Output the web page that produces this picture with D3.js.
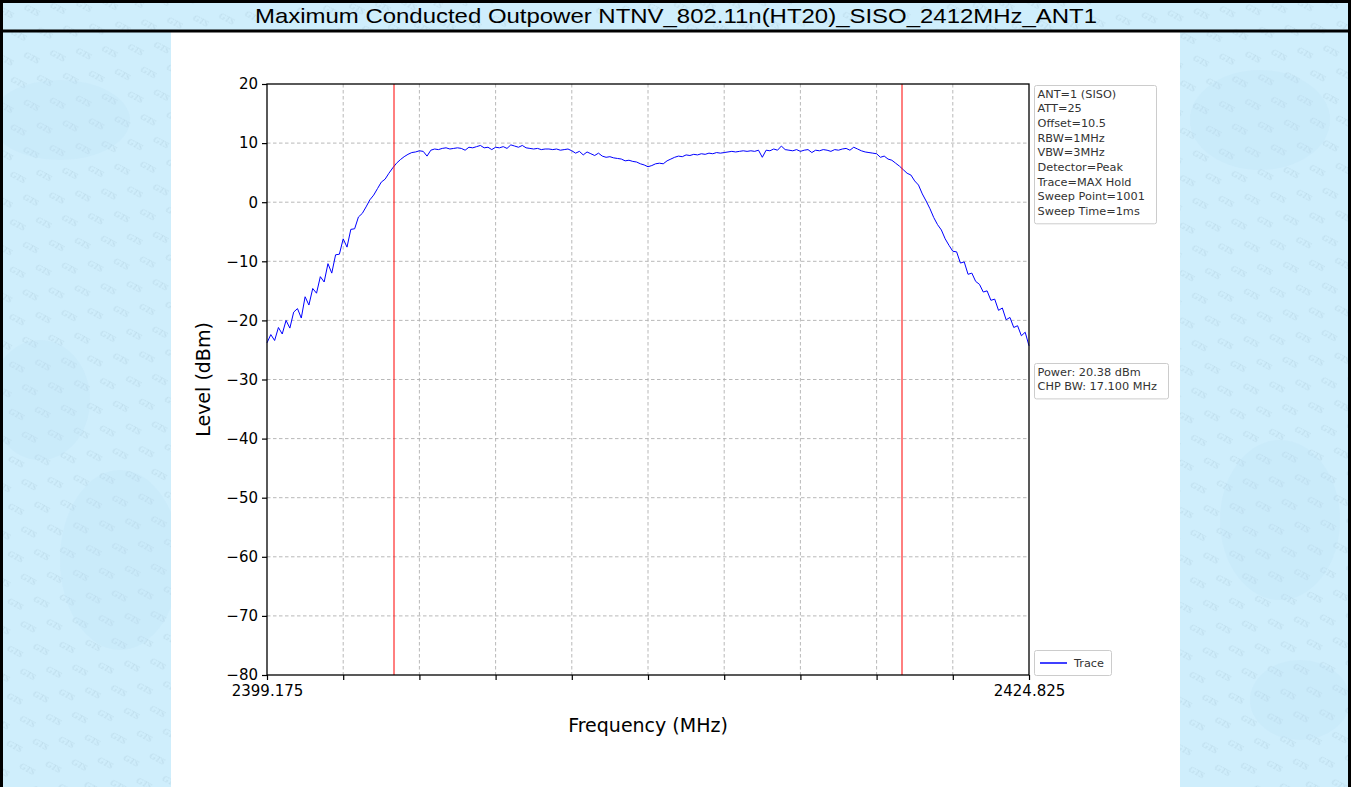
<!DOCTYPE html>
<html>
<head>
<meta charset="utf-8">
<script src="https://cdn.jsdelivr.net/npm/d3@7"></script>
<style>
html,body{margin:0;padding:0;background:#fff;}
svg{display:block;}
</style>
</head>
<body>
<svg id="chart" width="1351" height="787"></svg>
<script>
// ---------- data ----------
const titleText = "Maximum Conducted Outpower NTNV_802.11n(HT20)_SISO_2412MHz_ANT1";
const freqStart = 2399.175;
const freqStop = 2424.825;
const traceLevels = [
-23.8,-22.4,-23.4,-21.2,-22.3,-20.0,-21.3,-18.6,-18.0,-19.6,
-16.0,-17.4,-14.6,-15.4,-12.6,-13.5,-10.4,-12.0,-8.9,-8.8,
-6.2,-7.6,-4.6,-4.5,-2.5,-1.9,-0.8,0.4,1.2,2.3,
3.4,3.9,4.9,5.8,6.6,7.2,7.7,8.1,8.4,8.5,
8.7,8.6,7.8,8.8,9.0,8.9,9.1,9.2,9.0,9.1,
9.2,9.1,8.8,9.3,9.2,9.4,9.6,9.2,9.3,8.9,
9.3,9.2,9.4,9.1,9.7,9.5,9.3,9.6,9.2,9.1,
9.0,9.1,8.9,9.0,9.0,8.9,9.0,8.8,8.9,9.0,
8.7,8.3,8.6,8.0,8.5,8.2,7.9,8.3,7.8,7.6,
7.7,7.5,7.4,7.3,7.0,7.1,6.9,6.8,6.5,6.3,
6.0,6.2,6.5,6.6,6.5,7.0,7.3,7.6,7.8,7.7,
8.0,7.9,8.1,8.0,8.2,8.1,8.3,8.2,8.4,8.3,
8.4,8.5,8.6,8.5,8.6,8.7,8.6,8.7,8.6,8.8,
7.6,8.8,8.7,9.0,8.8,9.5,8.9,8.8,8.7,8.9,
8.6,8.8,8.9,8.4,8.8,8.7,8.9,8.8,8.6,8.9,
8.8,9.0,9.1,8.8,9.3,9.0,8.7,8.5,8.4,8.3,
8.2,7.6,7.8,7.3,7.1,6.6,6.1,5.5,4.9,4.6,
3.6,2.9,1.4,0.2,-1.1,-2.6,-3.8,-4.7,-6.2,-7.3,
-8.3,-8.4,-10.3,-10.1,-12.2,-12.0,-13.4,-13.9,-15.2,-15.0,
-16.6,-16.4,-18.3,-17.9,-19.9,-19.5,-21.2,-20.9,-22.6,-22.0,
-24.3
];
const chpLines = [2403.45, 2420.55];
const yTicks = [20,10,0,-10,-20,-30,-40,-50,-60,-70,-80];
const xTickLabels = ["2399.175","2424.825"];
const settingsLines = ["ANT=1 (SISO)","ATT=25","Offset=10.5","RBW=1MHz","VBW=3MHz","Detector=Peak","Trace=MAX Hold","Sweep Point=1001","Sweep Time=1ms"];
const powerLines = ["Power: 20.38 dBm","CHP BW: 17.100 MHz"];
const legendLabel = "Trace";
const yLabel = "Level (dBm)";
const xLabel = "Frequency (MHz)";

// ---------- layout ----------
const W = 1351, H = 787;
const svg = d3.select("#chart");
const defs = svg.append("defs");

// watermark pattern
const pat = defs.append("pattern").attr("id","wm").attr("patternUnits","userSpaceOnUse")
  .attr("width",44).attr("height",28).attr("patternTransform","rotate(28)");
pat.append("rect").attr("width",44).attr("height",28).attr("fill","#cfeefc");
pat.append("text").attr("x",3).attr("y",11).attr("font-family","Liberation Serif, serif")
  .attr("font-style","italic").attr("font-size",9).attr("fill","#bcdbea").text("GTS");
pat.append("text").attr("x",25).attr("y",25).attr("font-family","Liberation Serif, serif")
  .attr("font-style","italic").attr("font-size",9).attr("fill","#bcdbea").text("GTS");

svg.append("rect").attr("x",0).attr("y",0).attr("width",W).attr("height",H).attr("fill","url(#wm)");
// soft blotches
const blot = [[60,120,70,40],[120,560,60,90],[1260,120,70,50],[1280,520,60,80],[40,400,50,60],[1300,700,50,40]];
svg.append("g").selectAll("ellipse").data(blot).join("ellipse")
  .attr("cx",d=>d[0]).attr("cy",d=>d[1]).attr("rx",d=>d[2]).attr("ry",d=>d[3])
  .attr("fill","#b9dff3").attr("opacity",0.18);

// white plot page
svg.append("rect").attr("x",171).attr("y",32).attr("width",1009).attr("height",H-32).attr("fill","#ffffff");

// borders
svg.append("rect").attr("x",1.5).attr("y",1.5).attr("width",W-3).attr("height",H+10).attr("fill","none").attr("stroke","#000").attr("stroke-width",3);
svg.append("line").attr("x1",0).attr("x2",W).attr("y1",31).attr("y2",31).attr("stroke","#000").attr("stroke-width",3);

// title
svg.append("text").attr("x",676).attr("y",23).attr("text-anchor","middle")
  .attr("font-family","Liberation Sans, Arial, sans-serif").attr("font-size",21)
  .attr("textLength",842).attr("lengthAdjust","spacingAndGlyphs")
  .attr("fill","#000").text(titleText);

// plot area
const L = 267, R = 1029, T = 84, B = 675;
const x = d3.scaleLinear().domain([freqStart,freqStop]).range([L,R]);
const y = d3.scaleLinear().domain([-80,20]).range([B,T]);
const xTickVals = d3.range(0,11).map(k => freqStart + k*(freqStop-freqStart)/10);

const g = svg.append("g");
// grid
g.append("g").selectAll("line").data(xTickVals.slice(1,10)).join("line")
  .attr("x1",d=>x(d)).attr("x2",d=>x(d)).attr("y1",T).attr("y2",B)
  .attr("stroke","#b0b0b0").attr("stroke-width",0.9).attr("stroke-dasharray","3.5,2.5");
g.append("g").selectAll("line").data(yTicks.slice(1,10)).join("line")
  .attr("x1",L).attr("x2",R).attr("y1",d=>y(d)).attr("y2",d=>y(d))
  .attr("stroke","#b0b0b0").attr("stroke-width",0.9).attr("stroke-dasharray","3.5,2.5");

// trace
const freqs = traceLevels.map((v,i)=> freqStart + i*(freqStop-freqStart)/(traceLevels.length-1));
const line = d3.line().x((d,i)=>x(freqs[i])).y(d=>y(d));
g.append("path").datum(traceLevels).attr("d",line).attr("fill","none")
  .attr("stroke","#0000ff").attr("stroke-width",1).attr("stroke-linejoin","round");

// channel power lines
g.append("g").selectAll("line").data(chpLines).join("line")
  .attr("x1",d=>x(d)).attr("x2",d=>x(d)).attr("y1",T).attr("y2",B)
  .attr("stroke","#ff0000").attr("stroke-width",1);

// axes
const yAxis = d3.axisLeft(y).tickValues(yTicks).tickSize(5).tickPadding(4)
  .tickFormat(d => (d<0 ? "\u2212"+Math.abs(d) : d));
const ya = svg.append("g").attr("transform",`translate(${L},0)`).call(yAxis);
ya.select(".domain").remove();
ya.selectAll("text").attr("font-family","DejaVu Sans, sans-serif").attr("font-size",15).attr("fill","#000");
ya.selectAll("line").attr("stroke","#000").attr("stroke-width",1.2);

const xAxis = d3.axisBottom(x).tickValues(xTickVals).tickSize(5).tickPadding(5)
  .tickFormat((d,i)=> i===0 ? xTickLabels[0] : (i===10 ? xTickLabels[1] : ""));
const xa = svg.append("g").attr("transform",`translate(0,${B})`).call(xAxis);
xa.select(".domain").remove();
xa.selectAll("text").attr("font-family","DejaVu Sans, sans-serif").attr("font-size",15).attr("fill","#000");
xa.selectAll("line").attr("stroke","#000").attr("stroke-width",1.2);

// frame
svg.append("rect").attr("x",L).attr("y",T).attr("width",R-L).attr("height",B-T)
  .attr("fill","none").attr("stroke","#000").attr("stroke-width",1.3);

// axis labels
svg.append("text").attr("transform",`translate(210,${(T+B)/2}) rotate(-90)`).attr("text-anchor","middle")
  .attr("font-family","DejaVu Sans, sans-serif").attr("font-size",19).attr("fill","#000").text(yLabel);
svg.append("text").attr("x",(L+R)/2).attr("y",732).attr("text-anchor","middle")
  .attr("font-family","DejaVu Sans, sans-serif").attr("font-size",19).attr("fill","#000").text(xLabel);

// info boxes
function infoBox(x0,y0,w,lines){
  const lh = 14.7;
  svg.append("rect").attr("x",x0).attr("y",y0).attr("width",w).attr("height",lines.length*lh+6)
    .attr("rx",2).attr("fill","#fff").attr("stroke","#cccccc").attr("stroke-width",1);
  svg.append("g").selectAll("text").data(lines).join("text")
    .attr("x",x0+3).attr("y",(d,i)=>y0+12+i*lh)
    .attr("font-family","DejaVu Sans, sans-serif").attr("font-size",11.3).attr("fill","#333")
    .text(d=>d);
}
infoBox(1034.5,85.5,122,settingsLines);
infoBox(1034.5,363.5,134,powerLines);

// legend
svg.append("rect").attr("x",1034.5).attr("y",650.5).attr("width",77).attr("height",25).attr("rx",2)
  .attr("fill","#fff").attr("stroke","#cccccc");
svg.append("line").attr("x1",1040).attr("x2",1067).attr("y1",663).attr("y2",663).attr("stroke","#0000ff").attr("stroke-width",1.5);
svg.append("text").attr("x",1074).attr("y",667).attr("font-family","DejaVu Sans, sans-serif")
  .attr("font-size",11.3).attr("fill","#333").text(legendLabel);
</script>
</body>
</html>
